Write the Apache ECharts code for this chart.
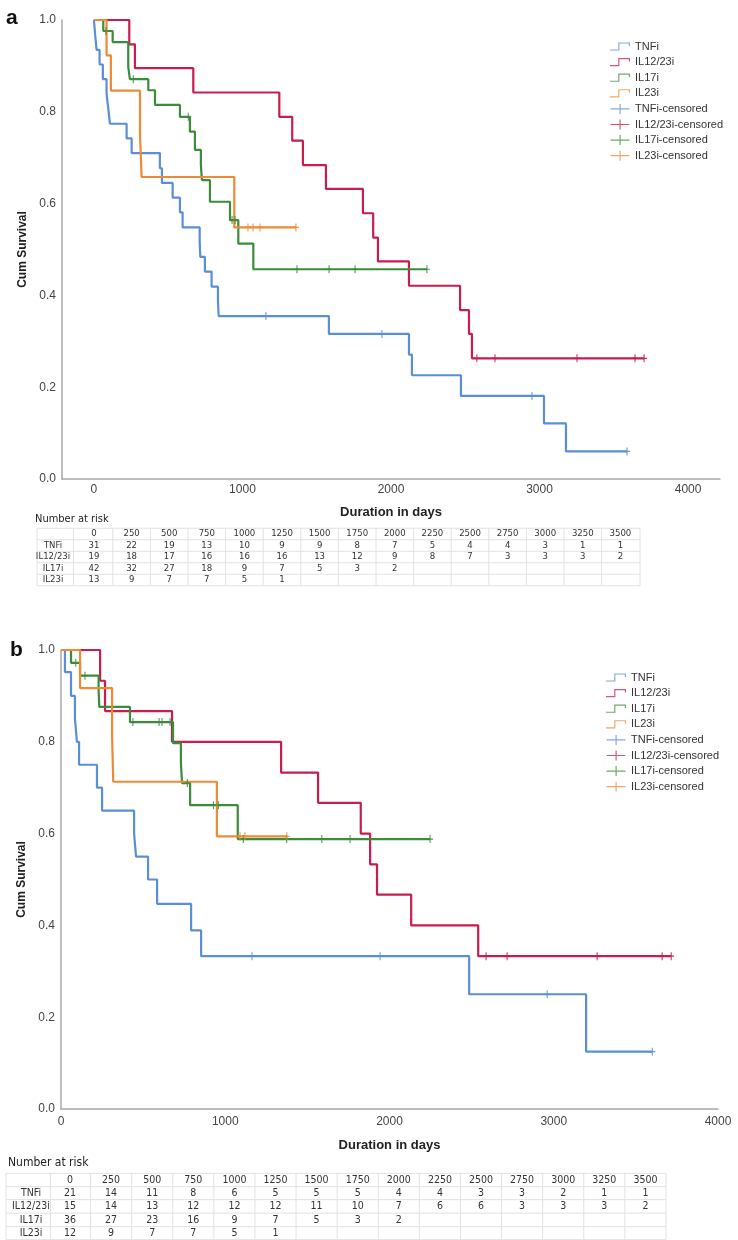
<!DOCTYPE html>
<html><head><meta charset="utf-8">
<script src="https://cdn.jsdelivr.net/npm/echarts@6/dist/echarts.min.js"></script>
<style>html,body{margin:0;padding:0;background:#fff}#c{width:738px;height:1240px}</style>
</head><body><div id="c"></div><script>
// ===== DATA =====
const groups = ['TNFi', 'IL12/23i', 'IL17i', 'IL23i'];
const colors = ['#5a8fd8', '#c81d4e', '#3b8c3b', '#ee8a35'];
const xTicks = [0, 1000, 2000, 3000, 4000];
const riskTimes = [0, 250, 500, 750, 1000, 1250, 1500, 1750, 2000, 2250, 2500, 2750, 3000, 3250, 3500];

// Panel a: Kaplan–Meier steps [day, cum survival], censored days
const curveA_TNFi = [[0,1],[8,0.968],[18,0.935],[38,0.903],[60,0.871],[85,0.839],[97,0.806],[108,0.774],[220,0.742],[254,0.710],[444,0.677],[458,0.645],[530,0.613],[579,0.581],[597,0.548],[712,0.516],[716,0.484],[747,0.452],[792,0.419],[835,0.387],[840,0.355],[1582,0.316],[2121,0.271],[2141,0.226],[2471,0.181],[3030,0.121],[3178,0.060],[3589,0.060]];
const censA_TNFi = [1158, 1939, 2949, 3589];
const curveA_IL1223 = [[0,1],[238,0.947],[276,0.895],[669,0.842],[1248,0.789],[1335,0.737],[1407,0.684],[1562,0.632],[1811,0.579],[1880,0.526],[1912,0.474],[2121,0.421],[2465,0.368],[2525,0.316],[2545,0.263],[3704,0.263]];
const censA_IL1223 = [2578, 2700, 3252, 3643, 3704];
const curveA_IL17 = [[0,1],[63,0.976],[126,0.952],[231,0.898],[242,0.871],[366,0.847],[411,0.815],[579,0.789],[646,0.757],[680,0.717],[720,0.684],[727,0.651],[781,0.604],[916,0.564],[972,0.513],[1073,0.457],[2242,0.457]];
const censA_IL17 = [81, 265, 635, 930, 950, 1367, 1583, 1758, 2242];
const curveA_IL23 = [[0,1],[85,0.923],[114,0.846],[310,0.752],[321,0.658],[945,0.548],[1360,0.548]];
const censA_IL23 = [1037, 1071, 1118, 1360];

// Panel b
const curveB_TNFi = [[0,1],[24,0.952],[61,0.90],[85,0.85],[97,0.80],[110,0.75],[219,0.70],[250,0.65],[445,0.60],[457,0.55],[530,0.50],[585,0.447],[792,0.389],[853,0.333],[2485,0.25],[3197,0.125],[3600,0.125]];
const censB_TNFi = [1163, 1943, 2960, 3600];
const curveB_IL1223 = [[0,1],[238,0.933],[268,0.867],[676,0.80],[1340,0.733],[1565,0.667],[1825,0.60],[1882,0.533],[1924,0.467],[2132,0.40],[2540,0.333],[3715,0.333]];
const censB_IL1223 = [2588, 2716, 3264, 3660, 3715];
const curveB_IL17 = [[0,1],[61,0.972],[116,0.944],[229,0.91],[233,0.876],[420,0.843],[682,0.797],[730,0.754],[737,0.71],[786,0.662],[1076,0.588],[2247,0.588]];
const censB_IL17 = [90, 146, 438, 597, 615, 664, 769, 928, 958, 1110, 1374, 1588, 1760, 2247];
const curveB_IL23 = [[0,1],[116,0.917],[311,0.815],[318,0.713],[949,0.594],[1375,0.594]];
const censB_IL23 = [1090, 1120, 1375];

// Number at risk
const riskA_TNFi = [31,22,19,13,10,9,9,8,7,5,4,4,3,1,1];
const riskA_IL1223 = [19,18,17,16,16,16,13,12,9,8,7,3,3,3,2];
const riskA_IL17 = [42,32,27,18,9,7,5,3,2];
const riskA_IL23 = [13,9,7,7,5,1];
const riskB_TNFi = [21,14,11,8,6,5,5,5,4,4,3,3,2,1,1];
const riskB_IL1223 = [15,14,13,12,12,12,11,10,7,6,6,3,3,3,2];
const riskB_IL17 = [36,27,23,16,9,7,5,3,2];
const riskB_IL23 = [12,9,7,7,5,1];

// ===== BUILD =====
const curvesA = [curveA_TNFi, curveA_IL1223, curveA_IL17, curveA_IL23];
const censA = [censA_TNFi, censA_IL1223, censA_IL17, censA_IL23];
const curvesB = [curveB_TNFi, curveB_IL1223, curveB_IL17, curveB_IL23];
const censB = [censB_TNFi, censB_IL1223, censB_IL17, censB_IL23];
const risksA = [riskA_TNFi, riskA_IL1223, riskA_IL17, riskA_IL23];
const risksB = [riskB_TNFi, riskB_IL1223, riskB_IL17, riskB_IL23];

function survAt(curve, t) {
  let s = 1;
  for (const p of curve) { if (p[0] <= t) s = p[1]; else break; }
  return s;
}
const stepIcon = 'path://M0,8 L7,8 L7,2 L17,2 L17,5 L16,5 L16,3 L8,3 L8,9 L0,9 Z';
const plusIcon = 'path://M0,4.4 L9,4.4 L9,0 L10.2,0 L10.2,4.4 L19,4.4 L19,5.6 L10.2,5.6 L10.2,10 L9,10 L9,5.6 L0,5.6 Z';
const censSymbol = 'path://M3,0 L4.3,0 L4.3,3.4 L7.3,3.4 L7.3,4.6 L4.3,4.6 L4.3,8 L3,8 L3,4.6 L0,4.6 L0,3.4 L3,3.4 Z';

const series = [];
function addPanel(curves, cens, axisIdx) {
  groups.forEach((g, i) => {
    series.push({
      name: g, type: 'line', step: 'end', xAxisIndex: axisIdx, yAxisIndex: axisIdx,
      data: curves[i], symbol: 'none', color: colors[i],
      lineStyle: { width: 2.2, color: colors[i] }, z: 2
    });
  });
  groups.forEach((g, i) => {
    series.push({
      name: g + '-censored', type: 'scatter', xAxisIndex: axisIdx, yAxisIndex: axisIdx,
      data: cens[i].map(t => [t, survAt(curves[i], t)]),
      symbol: censSymbol, symbolSize: [6, 8], color: colors[i],
      itemStyle: { color: colors[i], opacity: 0.9 }, z: 3
    });
  });
}
addPanel(curvesA, censA, 0);
addPanel(curvesB, censB, 1);

const legendData = groups.map(g => ({ name: g, icon: stepIcon }))
  .concat(groups.map(g => ({ name: g + '-censored', icon: plusIcon })));

function legendAt(left, top) {
  return {
    orient: 'vertical', left: left, top: top, padding: 0,
    itemWidth: 20, itemHeight: 10, itemGap: 4.6, selectedMode: false,
    itemStyle: { borderWidth: 0, opacity: 0.75 },
    textStyle: { fontSize: 11, color: '#333', fontFamily: 'Liberation Sans, Arial, sans-serif' },
    data: legendData
  };
}

const axisLineStyle = { color: '#a8a8a8', width: 1.5 };
const labelStyle = { fontSize: 12, color: '#444', fontFamily: 'Liberation Sans, Arial, sans-serif' };
const nameStyleBold = (sz) => ({ fontSize: sz, fontWeight: 'bold', color: '#222', fontFamily: 'Liberation Sans, Arial, sans-serif' });

function yAxisCfg(gridIdx, gap) {
  return {
    type: 'value', gridIndex: gridIdx, min: 0, max: 1, interval: 0.2,
    axisLine: { show: true, onZero: false, lineStyle: axisLineStyle }, axisTick: { show: false },
    splitLine: { show: false },
    axisLabel: Object.assign({ formatter: v => v.toFixed(1), margin: 6 }, labelStyle),
    name: 'Cum Survival', nameLocation: 'middle', nameGap: gap, nameTextStyle: nameStyleBold(12)
  };
}

// Risk tables (graphic text)
const narrow = '"Liberation Sans Narrow", "DejaVu Sans Condensed", Arial, sans-serif';
function buildTable(cfg, risks) {
  const els = [];
  const rowYs = cfg.rowYs;
  const half = cfg.rowH / 2;
  const hl = [rowYs[0] - half].concat(rowYs.map(y => y + half));
  hl.forEach(y => els.push({ type: 'line', shape: { x1: cfg.left, y1: y, x2: cfg.right, y2: y }, style: { stroke: '#e2e2e2', lineWidth: 1 }, silent: true }));
  const vx = [cfg.left, (cfg.labelX + cfg.col0) / 2 + cfg.vShift];
  for (let k = 0; k < riskTimes.length; k++) vx.push(cfg.col0 + cfg.step * k + cfg.step / 2);
  vx[vx.length - 1] = cfg.right;
  vx.forEach(x => els.push({ type: 'line', shape: { x1: x, y1: hl[0], x2: x, y2: hl[hl.length - 1] }, style: { stroke: '#e2e2e2', lineWidth: 1 }, silent: true }));
  const font = cfg.fontSize + 'px ' + narrow;
  riskTimes.forEach((t, k) => els.push({ type: 'text', x: cfg.col0 + cfg.step * k, y: rowYs[0], style: { text: String(t), font: font, fill: '#333', align: 'center', verticalAlign: 'middle' }, silent: true }));
  groups.forEach((g, i) => {
    els.push({ type: 'text', x: cfg.labelX, y: rowYs[i + 1], style: { text: g, font: font, fill: '#333', align: 'center', verticalAlign: 'middle' }, silent: true });
    risks[i].forEach((v, k) => els.push({ type: 'text', x: cfg.col0 + cfg.step * k, y: rowYs[i + 1], style: { text: String(v), font: font, fill: '#333', align: 'center', verticalAlign: 'middle' }, silent: true }));
  });
  els.push({ type: 'text', x: cfg.titleX, y: cfg.titleY, style: { text: 'Number at risk', font: cfg.titleSize + 'px ' + narrow, fill: '#222', align: 'left', verticalAlign: 'middle' }, silent: true });
  return els;
}

const tableA = buildTable({ left: 37, right: 640, labelX: 53, col0: 94, step: 37.6, vShift: 0, rowYs: [534, 545.5, 557, 568.5, 580], rowH: 11.5, fontSize: 9.5, titleX: 35, titleY: 519, titleSize: 11 }, risksA);
const tableB = buildTable({ left: 6, right: 666, labelX: 31, col0: 70, step: 41.1, vShift: 0, rowYs: [1180, 1193, 1206.5, 1220, 1233], rowH: 13.3, fontSize: 10.5, titleX: 8, titleY: 1163, titleSize: 12 }, risksB);

const xFmt = v => String(v);
const option = {
  animation: false,
  backgroundColor: '#fff',
  grid: [
    { left: 62, top: 20, width: 658, height: 459 },
    { left: 61, top: 650, width: 657, height: 459 }
  ],
  xAxis: [
    { type: 'value', gridIndex: 0, min: -215, max: 4215,
      axisLine: { show: true, onZero: false, lineStyle: axisLineStyle }, axisTick: { show: false }, splitLine: { show: false },
      axisLabel: Object.assign({ customValues: xTicks, formatter: xFmt, margin: 5 }, labelStyle),
      name: 'Duration in days', nameLocation: 'middle', nameGap: 27, nameTextStyle: nameStyleBold(13) },
    { type: 'value', gridIndex: 1, min: 0, max: 4000, interval: 1000,
      axisLine: { show: true, onZero: false, lineStyle: axisLineStyle }, axisTick: { show: false }, splitLine: { show: false },
      axisLabel: Object.assign({ formatter: xFmt, margin: 7 }, labelStyle),
      name: 'Duration in days', nameLocation: 'middle', nameGap: 30, nameTextStyle: nameStyleBold(13) }
  ],
  yAxis: [yAxisCfg(0, 33), yAxisCfg(1, 32)],
  legend: [legendAt(610, 41), legendAt(606, 672)],
  series: series,
  graphic: [
    { type: 'text', x: 6, y: 18, style: { text: 'a', font: 'bold 21px Arial, "Liberation Sans", sans-serif', fill: '#111', verticalAlign: 'middle' } },
    { type: 'text', x: 10, y: 650, style: { text: 'b', font: 'bold 21px Arial, "Liberation Sans", sans-serif', fill: '#111', verticalAlign: 'middle' } }
  ].concat(tableA, tableB)
};

const chart = echarts.init(document.getElementById('c'), null, { renderer: 'canvas' });
chart.setOption(option);
</script></body></html>
